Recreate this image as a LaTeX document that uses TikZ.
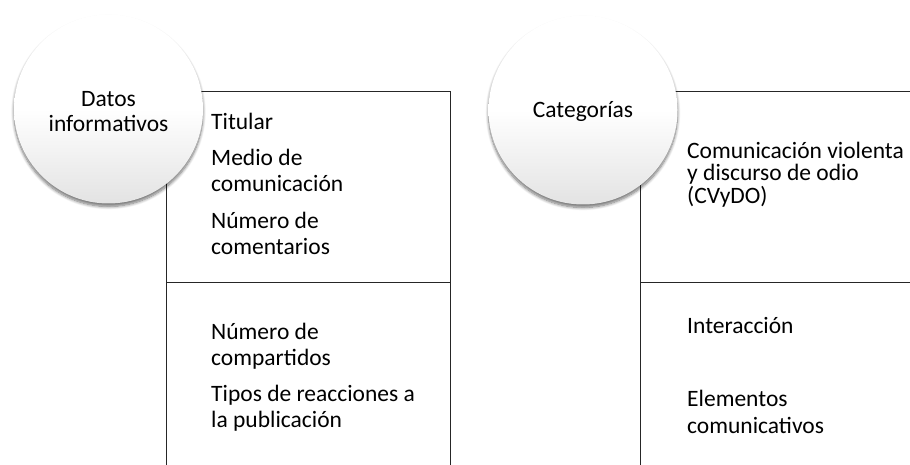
\documentclass[tikz,border=0pt]{standalone}
\usepackage{fontspec}
\setmainfont{Carlito}
\usetikzlibrary{shadows.blur}
\tikzset{
  frame/.style={draw=black!85, line width=1pt},
  bubble/.style={circle, minimum size=189pt, inner sep=0pt,
    top color=white, bottom color=black!11, middle color=white,
    blur shadow={shadow xshift=0pt, shadow yshift=-3pt, shadow blur steps=8, shadow opacity=55, shadow blur radius=3pt}},
  bubbletext/.style={align=center, inner sep=0pt, font=\fontsize{23.5}{25}\selectfont},
  item/.style={anchor=base west, align=left, inner sep=0pt, font=\fontsize{23.5}{26}\selectfont},
  itemtight/.style={item, font=\fontsize{23.5}{22.5}\selectfont},
  itemwide/.style={item, font=\fontsize{23.5}{26.3}\selectfont}
}
\begin{document}
\begin{tikzpicture}[x=1pt, y=-1pt]
\useasboundingbox (0,0) rectangle (910,465);
% left box
\coordinate (lbl) at (166,465);
\coordinate (ltl) at (166,92);
\coordinate (ltr) at (450,92);
\coordinate (lbr) at (450,465);
\coordinate (lml) at (166,282);
\coordinate (lmr) at (450,282);
\draw[frame] (lbl) -- (ltl) -- (ltr) -- (lbr);
\draw[frame] (lml) -- (lmr);
% right box
\coordinate (rbl) at (640,465);
\coordinate (rtl) at (640,92);
\coordinate (rtr) at (910,92);
\coordinate (rml) at (640,282);
\coordinate (rmr) at (910,282);
\draw[frame] (rbl) -- (rtl) -- (rtr);
\draw[frame] (rml) -- (rmr);
% circles
\node[bubble] (c1) at (108.5,109) {};
\node[bubbletext] (c1t) at ([yshift=-2.5pt]c1.center) {Datos\\informativos};
\node[bubble] (c2) at (583,110) {};
\node[bubbletext] (c2t) at ([yshift=-1.5pt]c2.center) {Categorías};
% left items (anchor = baseline of last line)
\node[item] (t1) at (211,130) {Titular};
\node[item] (t2) at (211,192) {Medio de\\comunicación};
\node[item] (t3) at (211,254.5) {Número de\\comentarios};
\node[item] (t4) at (211,365) {Número de\\compartidos};
\node[item] (t5) at (211,427) {Tipos de reacciones a\\la publicación};
% right items
\node[itemtight] (r1) at (687,203.5) {Comunicación violenta\\y discurso de odio\\(CVyDO)};
\node[item] (r2) at (687,333.5) {Interacción};
\node[itemwide] (r3) at (687,433) {Elementos\\comunicativos};
\end{tikzpicture}
\end{document}
